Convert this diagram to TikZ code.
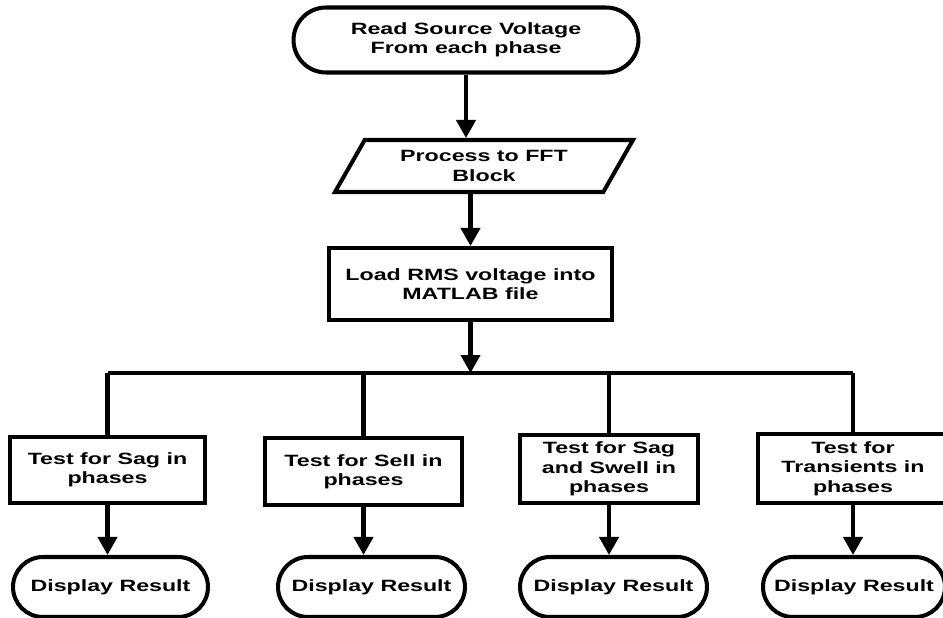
\documentclass[tikz,border=0pt]{standalone}
\usepackage{fontspec}
\newfontfamily\flowfont{Liberation Sans}[FakeStretch=1.42]
\usetikzlibrary{shapes.geometric, shapes.misc, arrows.meta, positioning}

\begin{document}
\begin{tikzpicture}[
    x=0.02cm, y=-0.02cm,
    % Node styles
    terminal/.style={
        rounded rectangle,
        draw,
        line width=2.3pt,
        minimum width=#1,
        minimum height=1.2cm,
        inner sep=0pt,
        align=center,
        font=\flowfont\bfseries\fontsize{9.3}{11}\selectfont
    },
    terminal/.default=3.8cm,
    io/.style={
        trapezium,
        trapezium left angle=46,
        trapezium right angle=134,
        trapezium stretches body,
        draw,
        line width=2.3pt,
        minimum width=5.96cm,
        minimum height=1.04cm,
        inner sep=0pt,
        align=center,
        font=\flowfont\bfseries\fontsize{9.3}{11}\selectfont
    },
    process/.style={
        rectangle,
        draw,
        line width=2.3pt,
        minimum width=#1,
        minimum height=1.34cm,
        inner sep=0pt,
        align=center,
        font=\flowfont\bfseries\fontsize{9.3}{11}\selectfont
    },
    process/.default=3.9cm,
    arrow/.style={
        -{Triangle[length=0.36cm, width=0.38cm]},
        line width=2.3pt
    },
    plain_line/.style={
        line width=2.3pt
    }
]
\useasboundingbox (0,0) rectangle (943,618);

% Position nodes
\node[terminal=6.9cm, minimum height=1.3cm] (read) at (466,40) {Read Source Voltage\\From each phase};
\node[io] (fft) at (484,166) {Process to FFT\\Block};
\node[process=5.66cm, minimum height=1.44cm] (load) at (470.5,284) {Load RMS voltage into\\MATLAB file};
\coordinate (split) at (470.5,373);

\node[process=3.9cm, minimum height=1.32cm] (sag) at (107.5,470) {Test for Sag in\\phases};
\node[process=3.94cm] (sell) at (363.5,471.5) {Test for Sell in\\phases};
\node[process=3.56cm, minimum height=1.36cm] (sagswell) at (609,469) {Test for Sag\\and Swell in\\phases};
\node[process=3.8cm, minimum height=1.38cm] (trans) at (853,468.5) {Test for\\Transients in\\phases};

\node[terminal=3.9cm] (res_sag) at (110.5,587) {Display Result};
\node[terminal=3.74cm] (res_sell) at (371.5,587) {Display Result};
\node[terminal=3.74cm] (res_sagswell) at (613.5,587) {Display Result};
\node[terminal=3.64cm] (res_trans) at (854,587) {Display Result};

\draw[arrow] (read.south) -- (read.south |- fft.north);
\draw[arrow] (load.north |- fft.south) -- (load.north);
\draw[arrow] (load.south) -- (split);

\draw[plain_line] (sag.north |- split) -- (trans.north |- split);
\draw[plain_line] (sag.north |- split) -- (sag.north);
\draw[plain_line] (sell.north |- split) -- (sell.north);
\draw[plain_line] (sagswell.north |- split) -- (sagswell.north);
\draw[plain_line] (trans.north |- split) -- (trans.north);

\draw[arrow] (sag.south) -- (sag.south |- res_sag.north);
\draw[arrow] (sell.south) -- (sell.south |- res_sell.north);
\draw[arrow] (sagswell.south) -- (sagswell.south |- res_sagswell.north);
\draw[arrow] (trans.south) -- (trans.south |- res_trans.north);

\end{tikzpicture}
\end{document}
